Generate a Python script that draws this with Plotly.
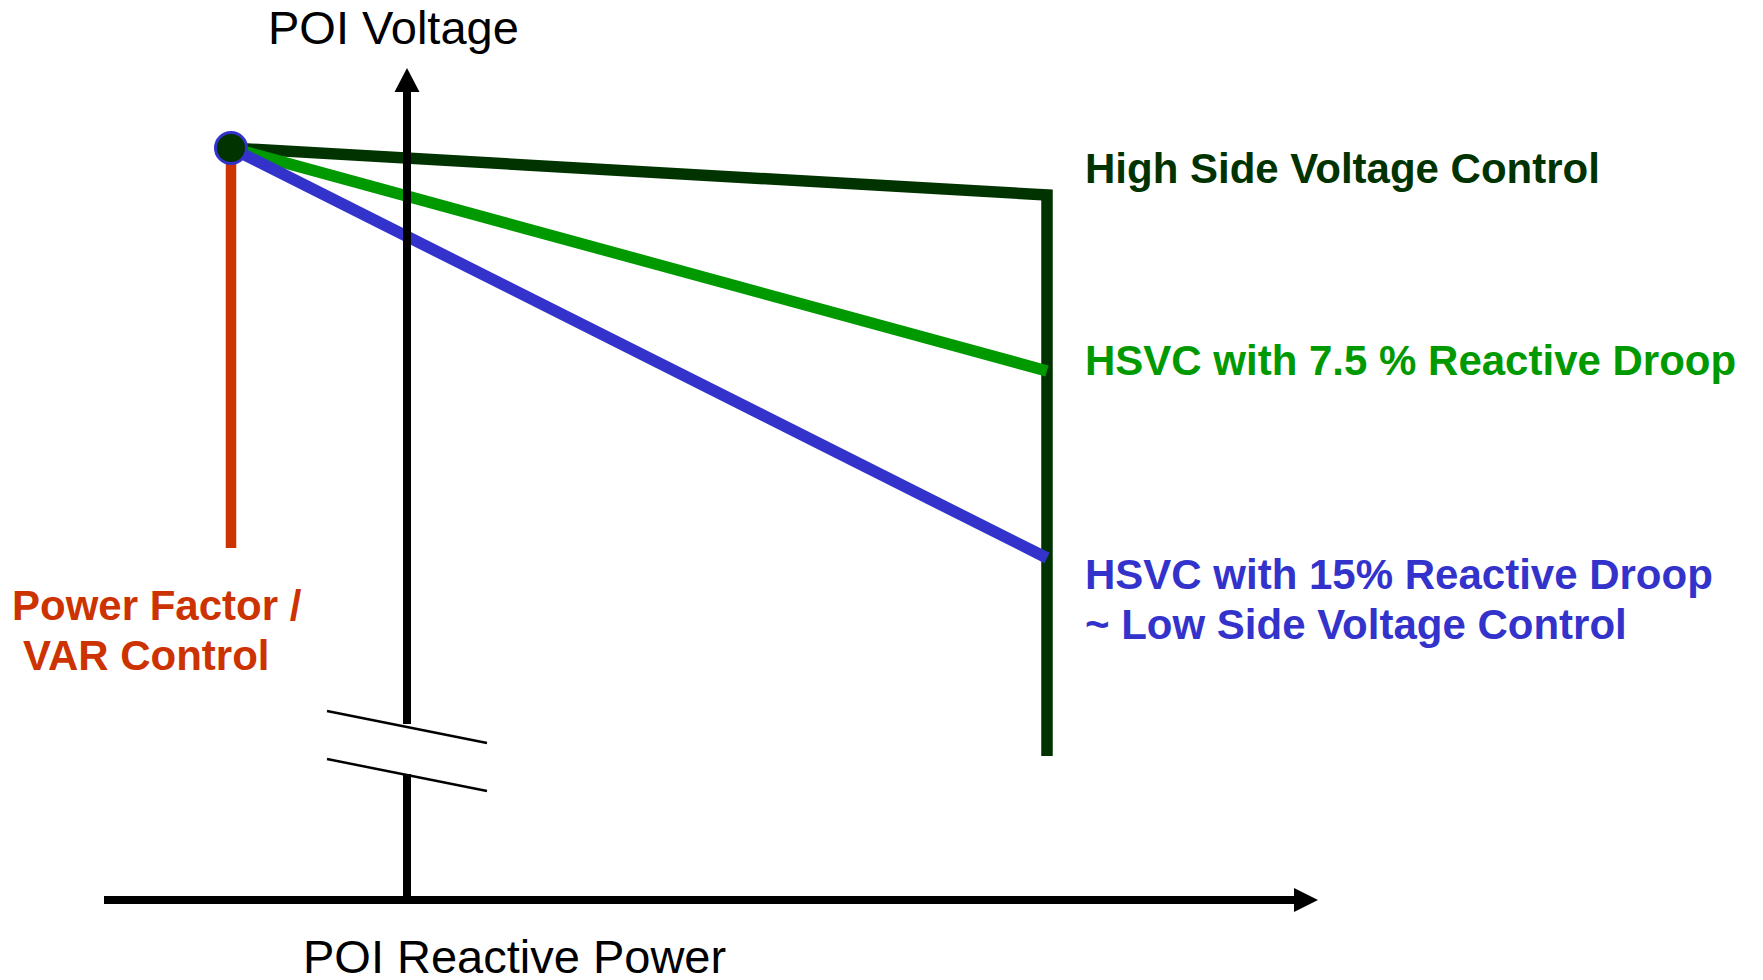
import plotly.graph_objects as go

# schematic coordinates (x to the right, y measured downward like the slide)
START_Q = 231
START_V = 148
END_Q = 1047

curve_names = ["High Side Voltage Control", "HSVC with 7.5 % Reactive Droop", "HSVC with 15% Reactive Droop"]
curve_end_v = [195, 371, 558]
curve_colors = ["#003300", "#009900", "#3333CC"]

hsvc_floor_v = 756          # bottom of the high-side vertical limit
pf_bottom_v = 548           # bottom of the power factor / VAR line

# axes
origin_q = 407
origin_v = 900
q_axis = [104, 1318]
v_axis_top = 68
break_gap = [724, 774]
break_marks_q = [327, 487]
break_marks_v = [[711, 743], [759, 791]]

label_text = [
    "High Side Voltage Control",
    "HSVC with 7.5 % Reactive Droop",
    "HSVC with 15% Reactive Droop",
    "~ Low Side Voltage Control",
    "Power Factor /",
    "VAR Control",
]
label_q = [1083, 1083, 1083, 1083, 10, 21]
label_v = [168, 360, 574, 624, 605, 655]
label_colors = ["#003300", "#009900", "#3333CC", "#3333CC", "#CC3300", "#CC3300"]

FONT = "Liberation Sans, Arial, sans-serif"
PAGE_OFFSET = 8  # default body margin of the written page

fig = go.Figure()

# power factor / VAR control
fig.add_trace(go.Scatter(x=[START_Q, START_Q], y=[START_V, pf_bottom_v], mode="lines",
                         line=dict(color="#CC3300", width=10.5)))

# droop curves
for i, (name, v_end, color) in enumerate(zip(curve_names, curve_end_v, curve_colors)):
    xs = [START_Q, END_Q]
    ys = [START_V, v_end]
    if i == 0:
        xs.append(END_Q)
        ys.append(hsvc_floor_v)
    fig.add_trace(go.Scatter(x=xs, y=ys, mode="lines", name=name,
                             line=dict(color=color, width=11.5)))

# axes with a break in the voltage axis
fig.add_trace(go.Scatter(x=[q_axis[0], q_axis[1] - 22], y=[origin_v, origin_v], mode="lines",
                         line=dict(color="black", width=8)))
fig.add_trace(go.Scatter(x=[origin_q, origin_q, None, origin_q, origin_q],
                         y=[origin_v, break_gap[1], None, break_gap[0], v_axis_top + 22],
                         mode="lines", line=dict(color="black", width=8)))
for v0, v1 in break_marks_v:
    fig.add_trace(go.Scatter(x=break_marks_q, y=[v0, v1], mode="lines",
                             line=dict(color="black", width=2.5)))

# arrow heads
fig.add_shape(type="path", xref="x", yref="y", line_width=0, fillcolor="black",
              path=f"M {q_axis[1] - 24},{origin_v - 12} L {q_axis[1]},{origin_v} "
                   f"L {q_axis[1] - 24},{origin_v + 12} Z")
fig.add_shape(type="path", xref="x", yref="y", line_width=0, fillcolor="black",
              path=f"M {origin_q - 12.5},{v_axis_top + 24} L {origin_q},{v_axis_top} "
                   f"L {origin_q + 12.5},{v_axis_top + 24} Z")

# common starting point
fig.add_trace(go.Scatter(x=[START_Q], y=[START_V], mode="markers",
                         marker=dict(size=31, color="#003300", line=dict(color="#3333CC", width=3))))

for text, q, v, color in zip(label_text, label_q, label_v, label_colors):
    fig.add_annotation(x=q, y=v, xref="x", yref="y", text=f"<b>{text}</b>", showarrow=False,
                       xanchor="left", yanchor="middle",
                       font=dict(family=FONT, size=42, color=color))

fig.add_annotation(x=393, y=27, xref="x", yref="y", text="POI Voltage", showarrow=False,
                   xanchor="center", yanchor="middle", font=dict(family=FONT, size=47, color="black"))
fig.add_annotation(x=514, y=956, xref="x", yref="y", text="POI Reactive Power", showarrow=False,
                   xanchor="center", yanchor="middle", font=dict(family=FONT, size=47, color="black"))

fig.update_xaxes(range=[PAGE_OFFSET, 1763], visible=False)
fig.update_yaxes(range=[980, PAGE_OFFSET], visible=False)
fig.update_layout(
    width=1763 - PAGE_OFFSET,
    height=980 - PAGE_OFFSET,
    margin=dict(l=0, r=0, t=0, b=0),
    plot_bgcolor="white",
    paper_bgcolor="white",
    showlegend=False,
)
fig.write_html("out.html")
